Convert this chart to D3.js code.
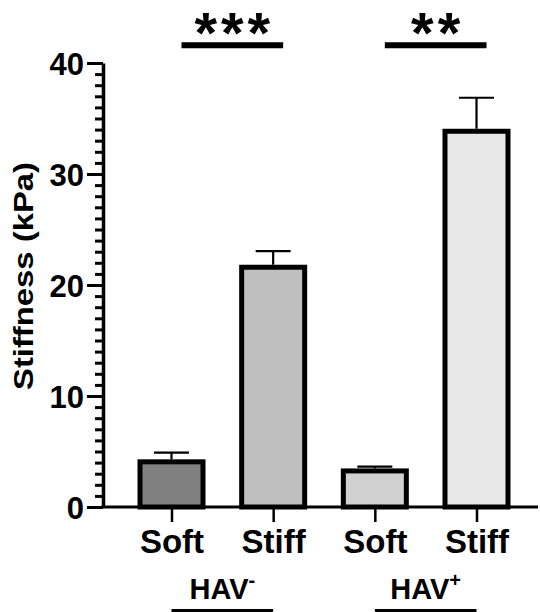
<!DOCTYPE html>
<html>
<head>
<meta charset="utf-8">
<script src="https://cdn.jsdelivr.net/npm/d3@7"></script>
<style>
  body { margin: 0; background: #fff; }
  text { font-family: "Liberation Sans", Arial, sans-serif; font-weight: bold; fill: #000; }
</style>
</head>
<body>
<div id="chart"></div>
<script>
// data
const keys = ["neg_soft", "neg_stiff", "pos_soft", "pos_stiff"];
const conditions = ["Soft", "Stiff", "Soft", "Stiff"];
const means = [4.07, 21.6, 3.25, 33.85];
const sems = [0.82, 1.45, 0.38, 3.02];
const fills = ["#808080", "#bfbfbf", "#d1d1d1", "#e8e8e8"];
const groupNames = ["HAV", "HAV"];
const groupSups = ["-", "+"];
const groupMembers = [["neg_soft", "neg_stiff"], ["pos_soft", "pos_stiff"]];
const sigPairs = [["neg_soft", "neg_stiff"], ["pos_soft", "pos_stiff"]];
const sigLabels = ["***", "**"];
const sigLevel = 41.6;
const yTicks = [0, 10, 20, 30, 40];

const W = 540, H = 612;

const svg = d3.select("#chart")
  .append("svg")
    .attr("width", W)
    .attr("height", H);

const x = d3.scalePoint()
  .domain(keys)
  .range([171.5, 476.5]);

const y = d3.scaleLinear()
  .domain([0, 40])
  .range([507, 63]);

const barW = 63;

// bars
svg.selectAll("rect.bar")
  .data(keys)
  .join("rect")
    .attr("class", "bar")
    .attr("x", d => x(d) - barW / 2)
    .attr("width", barW)
    .attr("y", (d, i) => y(means[i]))
    .attr("height", (d, i) => y(0) - y(means[i]))
    .attr("fill", (d, i) => fills[i])
    .attr("stroke", "#000")
    .attr("stroke-width", 5);

// error bars (upper only)
svg.selectAll("line.err")
  .data(keys)
  .join("line")
    .attr("class", "err")
    .attr("x1", d => x(d))
    .attr("x2", d => x(d))
    .attr("y1", (d, i) => y(means[i]) - 2.5)
    .attr("y2", (d, i) => y(means[i] + sems[i]))
    .attr("stroke", "#000")
    .attr("stroke-width", 2.2);

svg.selectAll("line.cap")
  .data(keys)
  .join("line")
    .attr("class", "cap")
    .attr("x1", d => x(d) - 17.5)
    .attr("x2", d => x(d) + 17.5)
    .attr("y1", (d, i) => y(means[i] + sems[i]))
    .attr("y2", (d, i) => y(means[i] + sems[i]))
    .attr("stroke", "#000")
    .attr("stroke-width", 2.2);

// y axis: minor ticks
const yMinor = svg.append("g")
  .attr("transform", "translate(103,0)")
  .call(d3.axisLeft(y).ticks(40).tickSize(8).tickSizeOuter(0).tickFormat(""));
yMinor.select(".domain").remove();
yMinor.selectAll("line").attr("stroke-width", 3);

// y axis: major ticks
const yAxis = svg.append("g")
  .attr("transform", "translate(103,0)")
  .call(d3.axisLeft(y).tickValues(yTicks).tickSize(16).tickSizeOuter(0).tickPadding(3));
yAxis.select(".domain").attr("stroke-width", 3.5);
yAxis.selectAll("line").attr("stroke-width", 3);
yAxis.selectAll("text")
  .attr("font-size", 31)
  .attr("dy", "0.36em");

// x axis
const xAxis = svg.append("g")
  .attr("transform", `translate(0,${y(0)})`)
  .call(d3.axisBottom(x).tickSize(15).tickSizeOuter(0).tickFormat((d, i) => conditions[i]));
xAxis.select(".domain")
  .attr("d", `M101.5,0H538`)
  .attr("stroke-width", 3);
xAxis.selectAll("line").attr("stroke-width", 2.5);
xAxis.selectAll("text")
  .attr("font-size", 33)
  .attr("y", 46)
  .attr("dy", 0);

// y title
svg.append("text")
  .attr("transform", `translate(33,276) rotate(-90)`)
  .attr("text-anchor", "middle")
  .attr("font-size", 27)
  .attr("textLength", 228)
  .attr("lengthAdjust", "spacingAndGlyphs")
  .text("Stiffness (kPa)");

// group labels
groupMembers.forEach((m, i) => {
  const cx = (x(m[0]) + x(m[1])) / 2;
  const t = svg.append("text")
    .attr("x", cx)
    .attr("y", 599)
    .attr("text-anchor", "middle")
    .attr("font-size", 29);
  t.append("tspan").text(groupNames[i]);
  t.append("tspan")
    .attr("font-size", 20)
    .attr("dy", -12)
    .text(groupSups[i]);
  svg.append("line")
    .attr("x1", x(m[0]))
    .attr("x2", x(m[1]))
    .attr("y1", 610.5)
    .attr("y2", 610.5)
    .attr("stroke", "#000")
    .attr("stroke-width", 3);
});

// significance bars
sigPairs.forEach((p, i) => {
  svg.append("line")
    .attr("x1", x(p[0]) + 10)
    .attr("x2", x(p[1]) + 10)
    .attr("y1", y(sigLevel))
    .attr("y2", y(sigLevel))
    .attr("stroke", "#000")
    .attr("stroke-width", 6);
  svg.append("text")
    .attr("x", (x(p[0]) + x(p[1])) / 2 + 12)
    .attr("y", y(sigLevel) + 8)
    .attr("text-anchor", "middle")
    .attr("font-size", 58)
    .attr("letter-spacing", 4)
    .text(sigLabels[i]);
});
</script>
</body>
</html>
